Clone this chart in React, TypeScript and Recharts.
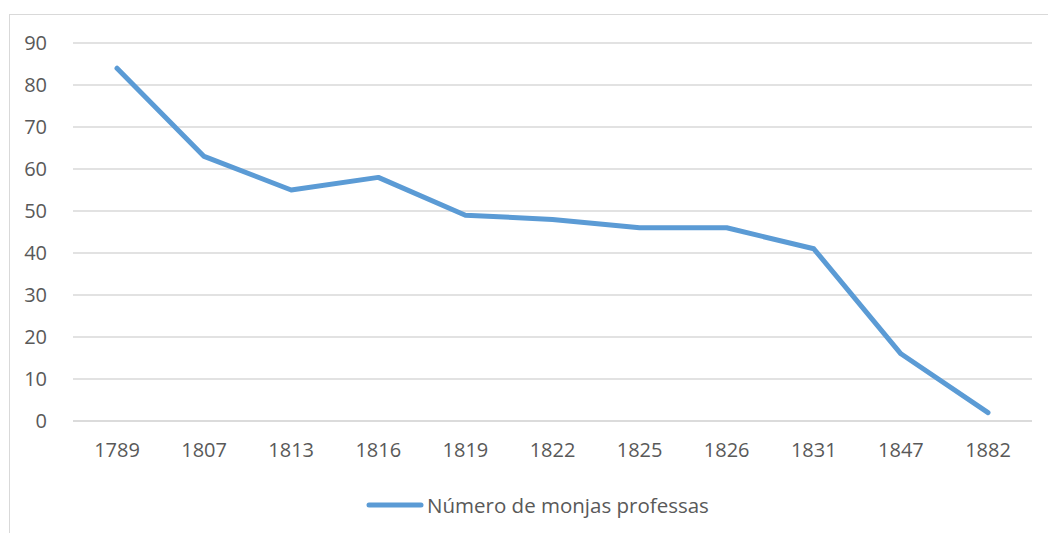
import { LineChart, Line, XAxis, YAxis, CartesianGrid, Legend } from "recharts";

const years = ["1789", "1807", "1813", "1816", "1819", "1822", "1825", "1826", "1831", "1847", "1882"];
const nuns = [84, 63, 55, 58, 49, 48, 46, 46, 41, 16, 2];
const yTicks = [0, 10, 20, 30, 40, 50, 60, 70, 80, 90];

const SERIES_NAME = "Número de monjas professas";
const LINE_COLOR = "#5b9bd5";
const TEXT_COLOR = "#595959";
const GRID_COLOR = "#d9d9d9";
const FONT = "'Open Sans', sans-serif";

const data = years.map((year, i) => ({ year, value: nuns[i] }));

function LegendContent() {
  return (
    <div
      style={{
        display: "flex",
        alignItems: "center",
        justifyContent: "center",
        fontFamily: FONT,
        fontSize: 20.5,
        color: TEXT_COLOR,
        paddingLeft: 30,
        paddingTop: 20,
      }}
    >
      <svg width="58" height="8" style={{ marginRight: 3 }}>
        <line x1="3" y1="4" x2="55" y2="4" stroke={LINE_COLOR} strokeWidth={5} strokeLinecap="round" />
      </svg>
      <span>{SERIES_NAME}</span>
    </div>
  );
}

export default function App() {
  return (
    <div style={{ position: "absolute", left: 0, top: 0, width: 1048, height: 533, background: "#fff", overflow: "hidden" }}>
      {/* chart frame: only the top and left edges are inside the picture */}
      <div
        style={{
          position: "absolute",
          left: 9,
          top: 14,
          width: 1100,
          height: 600,
          borderLeft: "1px solid #d9d9d9",
          borderTop: "1px solid #d9d9d9",
        }}
      />
      <div style={{ position: "absolute", left: 0, top: 0 }}>
        <LineChart width={1048} height={533} data={data} margin={{ top: 43, right: 16, left: 13, bottom: 10 }}>
          <CartesianGrid horizontal vertical={false} stroke={GRID_COLOR} strokeWidth={1.5} />
          <XAxis
            dataKey="year"
            axisLine={{ stroke: GRID_COLOR, strokeWidth: 1.5 }}
            tickLine={false}
            tick={{ fill: TEXT_COLOR, fontSize: 20, fontFamily: FONT }}
            tickMargin={16}
            height={50}
            interval={0}
            padding={{ left: 44, right: 44 }}
          />
          <YAxis
            domain={[0, 90]}
            ticks={yTicks}
            axisLine={false}
            tickLine={false}
            width={60}
            tickMargin={20}
            tick={{ fill: TEXT_COLOR, fontSize: 20, fontFamily: FONT }}
          />
          <Legend verticalAlign="bottom" height={52} content={<LegendContent />} />
          <Line
            type="linear"
            dataKey="value"
            name={SERIES_NAME}
            stroke={LINE_COLOR}
            strokeWidth={5}
            strokeLinecap="round"
            strokeLinejoin="round"
            dot={false}
            activeDot={false}
            isAnimationActive={false}
          />
        </LineChart>
      </div>
    </div>
  );
}
